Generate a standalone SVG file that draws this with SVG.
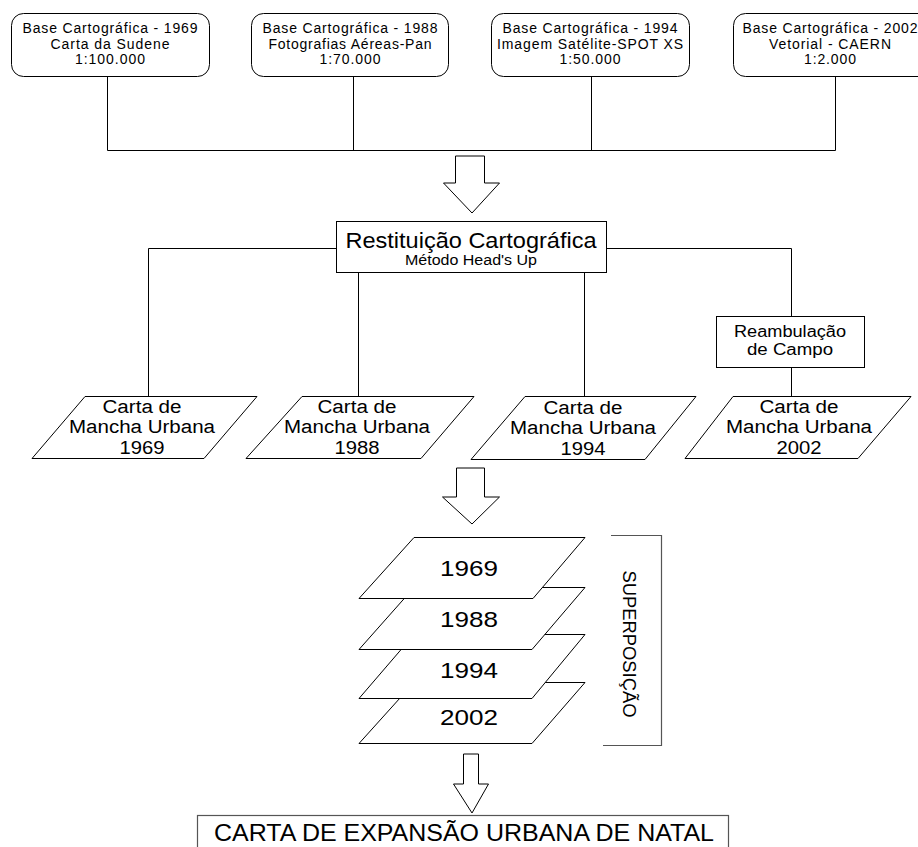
<svg xmlns="http://www.w3.org/2000/svg" width="918" height="847" viewBox="0 0 918 847">
<style>
text{font-family:"Liberation Sans",Arial,sans-serif;fill:#000;text-anchor:middle}
.b{fill:#fff;stroke:#000;stroke-width:1}
.c{fill:none;stroke:#000;stroke-width:1}
.g{fill:none;stroke:#555;stroke-width:1.2}
.s{font-size:14px}
.m{font-size:18px}
.y{font-size:22px}
</style>
<rect width="918" height="847" fill="#fff"/>
<g id="connectors">
<path class="c" d="M107.5,76V150.5H835.5V76M353.5,76V150.5M591.5,76V150.5"/>
<path class="c" d="M336,248.5H148.5V396M606,248.5H791.5V316M791.5,367V396M358.5,272V396M584.5,272V396"/>
<path class="b" d="M455.5,156H484.5V183H499.5L472,213L443.5,183H455.5Z"/>
<path class="b" d="M456.5,468H484.5V497H499.5L472,524L442.5,497H456.5Z"/>
<path class="b" d="M463.5,754H478.5V784H488.5L472,813L453.5,784H463.5Z"/>
<path class="g" d="M611,535.5H661.5V745.5H603"/>
</g>
<g id="base1969">
<rect class="b" x="11.5" y="13.5" width="198" height="63" rx="12"/>
<text class="s" x="110" y="33" textLength="175">Base Cartográfica - 1969</text>
<text class="s" x="110" y="49" textLength="119">Carta da Sudene</text>
<text class="s" x="110" y="64" textLength="70">1:100.000</text>
</g>
<g id="base1988">
<rect class="b" x="251.5" y="13.5" width="197" height="63" rx="12"/>
<text class="s" x="350" y="33" textLength="175">Base Cartográfica - 1988</text>
<text class="s" x="350" y="49" textLength="163">Fotografias Aéreas-Pan</text>
<text class="s" x="350" y="64" textLength="61">1:70.000</text>
</g>
<g id="base1994">
<rect class="b" x="491.5" y="13.5" width="198" height="63" rx="12"/>
<text class="s" x="590" y="33" textLength="175">Base Cartográfica - 1994</text>
<text class="s" x="590" y="49" textLength="186">Imagem Satélite-SPOT XS</text>
<text class="s" x="590" y="64" textLength="61">1:50.000</text>
</g>
<g id="base2002">
<rect class="b" x="733.5" y="13.5" width="197" height="63" rx="12"/>
<text class="s" x="830" y="33" textLength="175">Base Cartográfica - 2002</text>
<text class="s" x="830" y="49" textLength="122">Vetorial - CAERN</text>
<text class="s" x="830" y="64" textLength="52">1:2.000</text>
</g>
<g id="restituicao">
<rect class="b" x="336.5" y="221.5" width="270" height="51"/>
<text x="471" y="248" font-size="22" textLength="251" lengthAdjust="spacingAndGlyphs">Restituição Cartográfica</text>
<text x="471" y="265" font-size="14" textLength="132" lengthAdjust="spacingAndGlyphs">Método Head's Up</text>
</g>
<g id="reambulacao">
<rect class="b" x="716.5" y="316.5" width="148" height="51"/>
<text x="790" y="337" font-size="16" textLength="112" lengthAdjust="spacingAndGlyphs">Reambulação</text>
<text x="790" y="355" font-size="16" textLength="86" lengthAdjust="spacingAndGlyphs">de Campo</text>
</g>
<g id="carta1969">
<polygon class="b" points="85,396.5 257,396.5 204,458.5 32,458.5"/>
<text class="m" x="142" y="413" textLength="79" lengthAdjust="spacingAndGlyphs">Carta de</text>
<text class="m" x="142" y="433" textLength="146" lengthAdjust="spacingAndGlyphs">Mancha Urbana</text>
<text class="m" x="142" y="454" textLength="45" lengthAdjust="spacingAndGlyphs">1969</text>
</g>
<g id="carta1988">
<polygon class="b" points="302,396.5 474,396.5 421,458.5 246,458.5"/>
<text class="m" x="357" y="413" textLength="79" lengthAdjust="spacingAndGlyphs">Carta de</text>
<text class="m" x="357" y="433" textLength="146" lengthAdjust="spacingAndGlyphs">Mancha Urbana</text>
<text class="m" x="357" y="454" textLength="45" lengthAdjust="spacingAndGlyphs">1988</text>
</g>
<g id="carta1994">
<polygon class="b" points="525,396.5 696,396.5 645,459.5 471,459.5"/>
<text class="m" x="583" y="414" textLength="79" lengthAdjust="spacingAndGlyphs">Carta de</text>
<text class="m" x="583" y="434" textLength="146" lengthAdjust="spacingAndGlyphs">Mancha Urbana</text>
<text class="m" x="583" y="455" textLength="45" lengthAdjust="spacingAndGlyphs">1994</text>
</g>
<g id="carta2002">
<polygon class="b" points="733,396.5 911,396.5 858,458.5 685,458.5"/>
<text class="m" x="799" y="413" textLength="79" lengthAdjust="spacingAndGlyphs">Carta de</text>
<text class="m" x="799" y="433" textLength="146" lengthAdjust="spacingAndGlyphs">Mancha Urbana</text>
<text class="m" x="799" y="454" textLength="45" lengthAdjust="spacingAndGlyphs">2002</text>
</g>
<g id="layer2002">
<polygon class="b" points="414,682.5 585,682.5 532,743.5 359,743.5"/>
<text class="y" x="469" y="725" textLength="58" lengthAdjust="spacingAndGlyphs">2002</text>
</g>
<g id="layer1994">
<polygon class="b" points="414,634.5 585,634.5 532,698.5 359,698.5"/>
<text class="y" x="469" y="678" textLength="58" lengthAdjust="spacingAndGlyphs">1994</text>
</g>
<g id="layer1988">
<polygon class="b" points="414,587.5 585,587.5 532,649.5 359,649.5"/>
<text class="y" x="469" y="627" textLength="58" lengthAdjust="spacingAndGlyphs">1988</text>
</g>
<g id="layer1969">
<polygon class="b" points="414,537.5 585,537.5 533,598.5 359,598.5"/>
<text class="y" x="469" y="576" textLength="58" lengthAdjust="spacingAndGlyphs">1969</text>
</g>
<g id="superposicao">
<text transform="translate(623,644) rotate(90)" font-size="18" textLength="147" lengthAdjust="spacingAndGlyphs">SUPERPOSIÇÃO</text>
</g>
<g id="carta-expansao">
<rect x="197.5" y="815.5" width="531" height="50" fill="#fff" stroke="#555" stroke-width="1.2"/>
<text x="464" y="841" font-size="23" textLength="500" lengthAdjust="spacingAndGlyphs">CARTA DE EXPANSÃO URBANA DE NATAL</text>
</g>
</svg>
